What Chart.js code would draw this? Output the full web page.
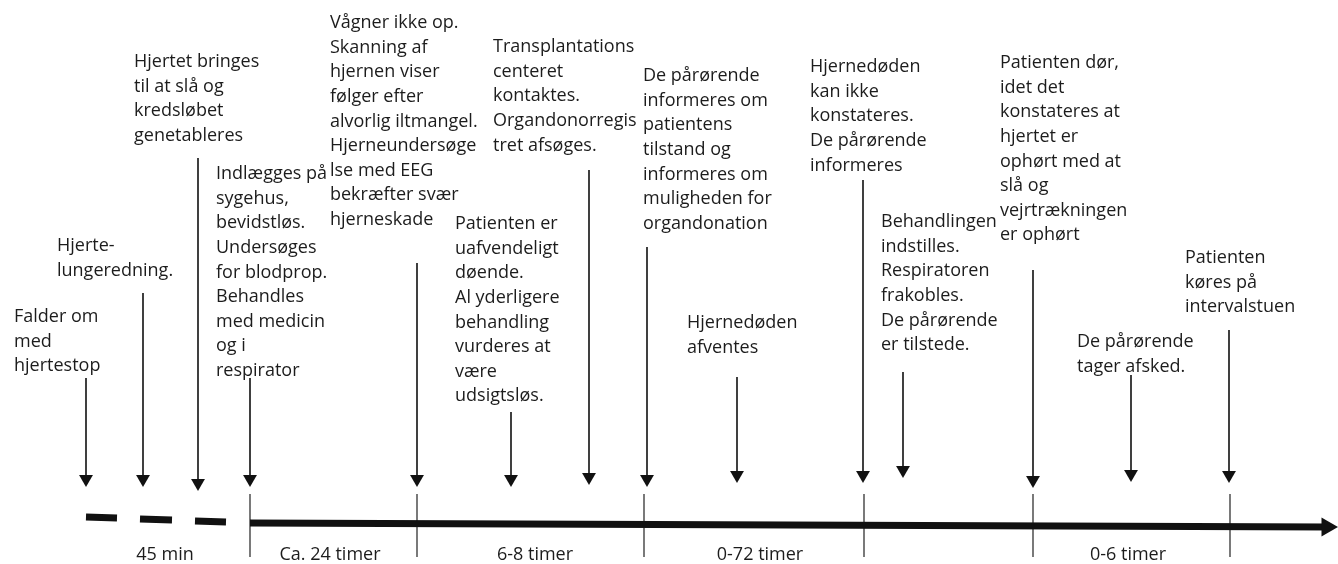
<!DOCTYPE html>
<html>
<head>
<meta charset="utf-8">
<script src="https://cdn.jsdelivr.net/npm/chart.js@4"></script>
<style>
  body { margin: 0; background: #fff; }
  canvas { display: block; }
</style>
</head>
<body>
<canvas id="timeline" width="1338" height="564"></canvas>
<script>
// events along the timeline (text, arrow position, arrow start/end)
const eventText = [
  ["Falder om", "med", "hjertestop"],
  ["Hjerte-", "lungeredning."],
  ["Hjertet bringes", "til at slå og", "kredsløbet", "genetableres"],
  ["Indlægges på", "sygehus,", "bevidstløs.", "Undersøges", "for blodprop.", "Behandles", "med medicin", "og i", "respirator"],
  ["Vågner ikke op.", "Skanning af", "hjernen viser", "følger efter", "alvorlig iltmangel.", "Hjerneundersøge", "lse med EEG", "bekræfter svær", "hjerneskade"],
  ["Patienten er", "uafvendeligt", "døende.", "Al yderligere", "behandling", "vurderes at", "være", "udsigtsløs."],
  ["Transplantations", "centeret", "kontaktes.", "Organdonorregis", "tret afsøges."],
  ["De pårørende", "informeres om", "patientens", "tilstand og", "informeres om", "muligheden for", "organdonation"],
  ["Hjernedøden", "afventes"],
  ["Hjernedøden", "kan ikke", "konstateres.", "De pårørende", "informeres"],
  ["Behandlingen", "indstilles.", "Respiratoren", "frakobles.", "De pårørende", "er tilstede."],
  ["Patienten dør,", "idet det", "konstateres at", "hjertet er", "ophørt med at", "slå og", "vejrtrækningen", "er ophørt"],
  ["De pårørende", "tager afsked."],
  ["Patienten", "køres på", "intervalstuen"]
];
const textX = [14, 57, 134, 216, 330, 455, 493, 643, 687, 810, 881, 1000, 1077, 1185];
const textY = [317, 246, 62, 174, 23, 224, 47, 76, 323, 67, 222, 63, 342, 258];

const arrowX   = [86, 143, 198, 250, 417, 511, 589, 647, 737, 863, 903, 1033, 1131, 1229];
const arrowTop = [378, 293, 158, 378, 263, 412, 170, 247, 377, 180, 372, 270, 375, 330];
const arrowTip = [487, 487, 491, 487, 487, 487, 485, 487, 483, 483, 478, 488, 482, 483];

// phases below the axis
const phaseLabels = ["45 min", "Ca. 24 timer", "6-8 timer", "0-72 timer", "0-6 timer"];
const phaseX = [165, 330, 535, 760, 1128];
const tickX = [250, 417, 644, 864, 1033, 1230];

// first part of the axis is dashed
const dashStart = [86, 140, 195];
const dashEnd = [117, 172, 226];
const dashY = [517, 519, 521];

const LINE = "#111";
const FONT = "18px 'Open Sans', sans-serif";
const LINE_H = 24.6;

const datasets = [];

arrowX.forEach((x, i) => {
  datasets.push({
    data: [{ x: x, y: arrowTop[i] }, { x: x, y: arrowTip[i] - 8 }],
    showLine: true,
    borderColor: LINE,
    backgroundColor: LINE,
    borderWidth: 1.6,
    pointRadius: [0, 8],
    pointStyle: "triangle",
    pointRotation: 180,
    pointBorderWidth: 0,
  });
});

dashStart.forEach((x, i) => {
  datasets.push({
    data: [{ x: x, y: dashY[i] }, { x: dashEnd[i], y: dashY[i] + 1 }],
    showLine: true,
    borderColor: LINE,
    borderWidth: 7,
    borderCapStyle: "butt",
    pointRadius: 0,
  });
});

// main axis with arrowhead
datasets.push({
  data: [{ x: 250, y: 523 }, { x: 1327, y: 527 }],
  showLine: true,
  borderColor: LINE,
  backgroundColor: LINE,
  borderWidth: 7,
  borderCapStyle: "butt",
  pointRadius: [0, 11],
  pointStyle: "triangle",
  pointRotation: 90,
  pointBorderWidth: 0,
  clip: false,
});

tickX.forEach((x) => {
  datasets.push({
    data: [{ x: x, y: 494 }, { x: x, y: 557 }],
    showLine: true,
    borderColor: "#333",
    borderWidth: 1.3,
    pointRadius: 0,
  });
});

const textPlugin = {
  id: "timelineText",
  afterDatasetsDraw(chart) {
    const ctx = chart.ctx;
    const xs = chart.scales.x;
    const ys = chart.scales.y;
    ctx.save();
    ctx.font = FONT;
    ctx.fillStyle = "#1c1c1c";
    ctx.textBaseline = "middle";
    ctx.textAlign = "left";
    eventText.forEach((lines, i) => {
      lines.forEach((line, j) => {
        ctx.fillText(line, xs.getPixelForValue(textX[i]), ys.getPixelForValue(textY[i] + j * LINE_H));
      });
    });
    ctx.textAlign = "center";
    phaseLabels.forEach((label, i) => {
      ctx.fillText(label, xs.getPixelForValue(phaseX[i]), ys.getPixelForValue(555));
    });
    ctx.restore();
  },
};

new Chart(document.getElementById("timeline"), {
  type: "scatter",
  data: { datasets },
  options: {
    responsive: false,
    animation: false,
    layout: { padding: 0, autoPadding: false },
    plugins: { legend: { display: false }, tooltip: { enabled: false } },
    scales: {
      x: { type: "linear", min: 0, max: 1338, display: false },
      y: { type: "linear", min: 0, max: 564, reverse: true, display: false },
    },
  },
  plugins: [textPlugin],
});
</script>
</body>
</html>
